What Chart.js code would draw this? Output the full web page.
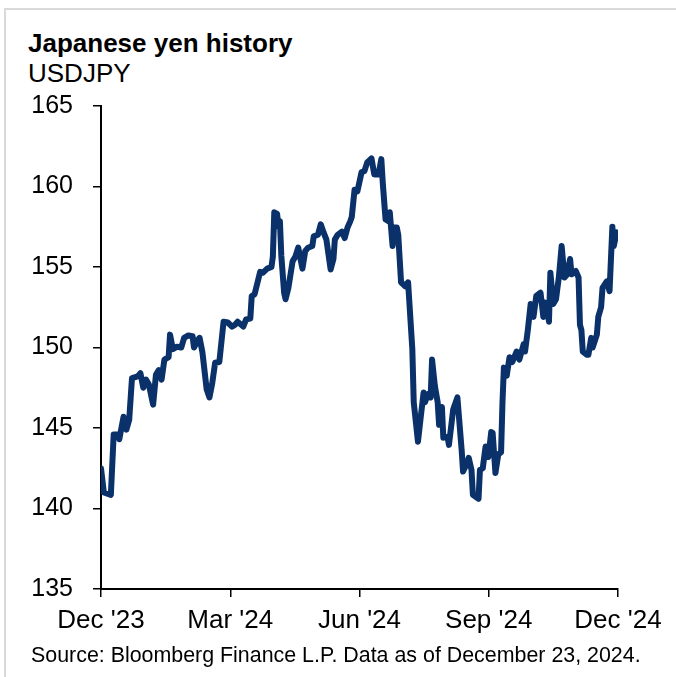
<!DOCTYPE html>
<html>
<head>
<meta charset="utf-8">
<script src="https://cdn.jsdelivr.net/npm/chart.js@4/dist/chart.umd.min.js"></script>
<style>
  body { margin: 0; background: #fff; font-family: "Liberation Sans", Arial, sans-serif; }
  #wrap { position: relative; width: 676px; height: 677px; overflow: hidden; }
  #frame { position: absolute; left: 4px; top: 8px; width: 700px; height: 700px;
           border-top: 2px solid #d9d9d9; border-left: 2px solid #d9d9d9; }
  .txt { position: absolute; left: 28px; line-height: 1; color: #000; white-space: nowrap; }
  #title { top: 30px; font-size: 26px; font-weight: bold; }
  #subtitle { top: 60px; font-size: 26px; }
  #source { top: 645px; left: 31px; font-size: 21.4px; }
  canvas { position: absolute; left: 0; top: 0; }
</style>
</head>
<body>
<div id="wrap">
  <div id="frame"></div>
  <div id="title" class="txt">Japanese yen history</div>
  <div id="subtitle" class="txt">USDJPY</div>
  <canvas id="yenChart" width="676" height="677"></canvas>
  <div id="source" class="txt">Source: Bloomberg Finance L.P. Data as of December 23, 2024.</div>
</div>
<script>
// jours depuis le 22 déc. 2023
const days = [
  0, 2, 7, 9, 12, 13, 16, 18, 20, 22, 26, 28, 30, 32, 34, 37, 39, 41, 43, 45,
  48, 49, 51, 54, 57, 59, 62, 65, 66, 69, 70, 72, 75, 77, 79, 81, 84, 87, 90, 93,
  95, 97, 101, 103, 106, 107, 109, 113, 115, 118, 121, 122, 123, 125, 126, 127, 128, 130, 131, 133,
  136, 138, 140, 143, 145, 147, 150, 151, 154, 156, 158, 160, 163, 165, 166, 168, 171, 173, 175, 177,
  178, 180, 182, 185, 187, 189, 192, 194, 197, 199, 200, 202, 204, 205, 207, 208, 210, 211, 213, 216,
  218, 221, 222, 225, 227, 229, 230, 232, 234, 235, 237, 239, 240, 242, 243, 246, 247, 250, 253, 256,
  257, 260, 261, 263, 264, 268, 269, 271, 273, 275, 277, 278, 280, 282, 284, 285, 286, 288, 290, 292,
  295, 297, 300, 301, 303, 305, 307, 309, 312, 314, 315, 317, 318, 319, 321, 323, 325, 327, 329, 331,
  333, 334, 337, 339, 340, 341, 342, 345, 346, 348, 349, 352, 353, 355, 356, 359, 361, 363, 364, 366,
  367
];

const usdjpy = [
  142.5, 141.0, 140.85, 144.6, 144.6, 144.3, 145.7, 144.9, 145.5, 148.1, 148.2, 148.4, 147.5, 148.0, 147.7, 146.45, 148.3, 148.6, 148.0, 149.25,
  149.4, 150.8, 149.9, 150.05, 150.0, 150.6, 150.75, 150.7, 150.0, 150.5, 150.6, 149.7, 147.4, 146.9, 147.8, 149.05, 149.1, 151.6, 151.55, 151.3,
  151.4, 151.6, 151.3, 151.75, 151.8, 153.2, 153.3, 154.7, 154.65, 154.9, 155.0, 155.65, 158.4, 158.3, 157.5, 157.85, 155.7, 153.4, 153.0, 153.7,
  155.35, 155.65, 156.2, 154.9, 156.0, 156.2, 156.3, 156.9, 157.0, 157.65, 157.15, 156.7, 154.85, 155.5, 156.7, 157.0, 157.2, 156.8, 157.45, 157.85,
  158.1, 159.8, 159.7, 160.9, 160.95, 161.5, 161.75, 160.75, 160.75, 161.7, 160.25, 157.95, 157.85, 158.4, 156.3, 157.45, 157.45, 157.0, 154.05, 153.8,
  154.05, 149.9, 146.6, 144.15, 145.7, 147.2, 146.6, 147.1, 146.9, 149.25, 147.6, 146.6, 145.2, 146.3, 144.4, 144.45, 143.95, 146.15, 146.9, 143.65,
  142.3, 142.85, 143.15, 142.4, 140.85, 140.6, 142.4, 142.5, 143.85, 143.2, 144.75, 144.7, 142.2, 143.35, 143.5, 146.6, 148.75, 148.25, 149.4, 149.1,
  149.75, 149.25, 150.2, 149.75, 151.1, 152.7, 151.9, 153.2, 153.4, 151.9, 152.8, 152.35, 151.6, 154.65, 152.7, 153.0, 154.35, 156.3, 154.35, 154.55,
  155.5, 154.55, 154.75, 154.35, 151.4, 151.1, 149.75, 149.55, 149.55, 150.6, 150.0, 150.8, 151.9, 152.5, 153.7, 154.1, 153.5, 157.5, 156.3, 157.15,
  157.1
];

// graduations de l'axe des x (un trimestre chacune)
const tickDays = [0, 91.75, 183.5, 275.25, 367];
const tickLabels = ["Dec '23", "Mar '24", "Jun '24", "Sep '24", "Dec '24"];

const points = days.map((d, i) => ({ x: d, y: usdjpy[i] }));

const ctx = document.getElementById('yenChart').getContext('2d');

new Chart(ctx, {
    type: 'line',
    data: {
        datasets: [{
            label: 'USDJPY',
            data: points,
            borderColor: '#0a3169',
            borderWidth: 6,
            borderJoinStyle: 'round',
            borderCapStyle: 'round',
            pointRadius: 0,
            tension: 0,
            fill: false
        }]
    },
    options: {
        responsive: false,
        devicePixelRatio: 1,
        animation: false,
        layout: {
            padding: { left: 0, right: 58, top: 106, bottom: 38 }
        },
        plugins: {
            legend: { display: false },
            tooltip: { enabled: false }
        },
        scales: {
            x: {
                type: 'linear',
                min: 0,
                max: 367,
                afterBuildTicks: (scale) => {
                    scale.ticks = tickDays.map(v => ({ value: v }));
                },
                afterFit: (scale) => { scale.height = 50; },
                ticks: {
                    autoSkip: false,
                    maxRotation: 0,
                    padding: 8,
                    color: '#000',
                    font: { family: '"Liberation Sans", Arial, sans-serif', size: 26 },
                    callback: (value, index) => tickLabels[index]
                },
                grid: {
                    drawOnChartArea: false,
                    drawTicks: true,
                    tickLength: 8,
                    color: '#000',
                    lineWidth: 1.5
                },
                border: { display: true, color: '#000', width: 2 }
            },
            y: {
                min: 135,
                max: 165,
                afterFit: (scale) => { scale.width = 101; },
                ticks: {
                    stepSize: 5,
                    padding: 20,
                    color: '#000',
                    font: { family: '"Liberation Sans", Arial, sans-serif', size: 25 }
                },
                grid: {
                    drawOnChartArea: false,
                    drawTicks: true,
                    tickLength: 8,
                    color: '#000',
                    lineWidth: 1.5
                },
                border: { display: true, color: '#000', width: 2 }
            }
        }
    }
});
</script>
</body>
</html>
